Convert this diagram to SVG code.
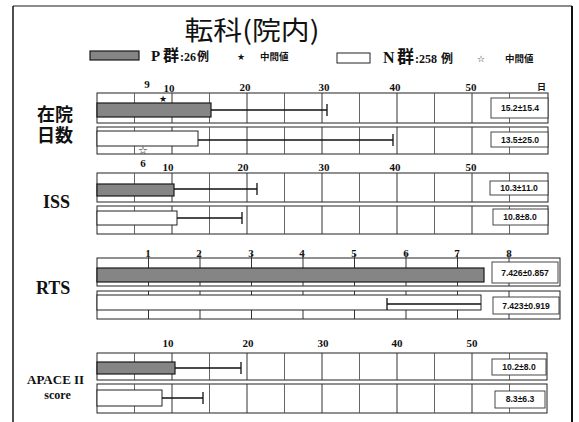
<svg xmlns="http://www.w3.org/2000/svg" width="579" height="422" viewBox="0 0 579 422">
<style>
.box{fill:#fff;stroke:#222;stroke-width:1}
.g10{stroke:#333;stroke-width:1}
.g5{stroke:#555;stroke-width:0.9}
.barP{fill:#858585;stroke:#1a1a1a;stroke-width:1.2}
.barN{fill:#fff;stroke:#222;stroke-width:1}
.err{stroke:#111;stroke-width:1.3;fill:none}
.vbox{fill:#fff;stroke:#333;stroke-width:0.9}
.vtxt{font-family:"Liberation Sans",Arial,sans-serif;font-size:8.6px;font-weight:bold;text-anchor:middle;fill:#111}
.ax{font-family:"Liberation Serif","Times New Roman",serif;font-size:11px;font-weight:bold;text-anchor:middle;fill:#111}
.lab{font-family:"Liberation Serif","Times New Roman",serif;font-weight:bold;fill:#111}
.jp{font-family:"Noto Sans CJK JP",sans-serif;font-weight:bold;fill:#111}
.sym{font-family:"DejaVu Sans",sans-serif;fill:#111;text-anchor:middle}
</style>
<rect width="579" height="422" fill="#fff"/>
<g id="frame">
<line x1="13" y1="6" x2="572" y2="6" stroke="#666" stroke-width="1.4"/>
<line x1="13" y1="6" x2="13" y2="422" stroke="#222" stroke-width="1.6"/>
<line x1="572" y1="6" x2="572" y2="422" stroke="#111" stroke-width="2"/>
</g>
<g id="title">
<text x="252" y="40" font-family="Noto Sans CJK JP, sans-serif" font-size="26" text-anchor="middle" textLength="135" lengthAdjust="spacingAndGlyphs" fill="#111">転科(院内)</text>
</g>
<g id="legend">
<rect x="90" y="51" width="49" height="9" class="barP"/>
<text class="lab" y="61"><tspan x="151" font-size="15">P</tspan><tspan x="163" font-size="16" font-family="Noto Sans CJK JP, serif">群</tspan><tspan x="180" font-size="12">:26</tspan><tspan x="197" font-size="12" font-family="Noto Sans CJK JP, serif">例</tspan></text>
<text class="sym" x="241" y="60" font-size="9">★</text>
<text class="jp" x="260" y="60" font-size="9.5">中間値</text>
<rect x="337" y="53" width="33" height="10" class="barN"/>
<text class="lab" y="63"><tspan x="383" font-size="16">N</tspan><tspan x="397" font-size="17" font-family="Noto Sans CJK JP, serif">群</tspan><tspan x="415" font-size="12">:258</tspan><tspan x="441" font-size="12" font-family="Noto Sans CJK JP, serif">例</tspan></text>
<text class="sym" x="481" y="62" font-size="9">☆</text>
<text class="jp" x="505" y="62" font-size="9.5">中間値</text>
</g>

<g id="chart-stay">
<text class="jp" x="37" y="121" font-size="18">在院</text>
<text class="jp" x="37" y="142" font-size="18">日数</text>
<text class="ax" x="147" y="88" font-size="10">9</text>
<text class="ax" x="169" y="92">10</text>
<text class="ax" x="245" y="91">20</text>
<text class="ax" x="324" y="91">30</text>
<text class="ax" x="395" y="91">40</text>
<text class="ax" x="471" y="91">50</text>
<text class="jp" x="537" y="90" font-size="9">日</text>
<rect class="box" x="97" y="93" width="451" height="30"/>
<path class="g5" d="M134.5,93V123M209.5,93V123M284.5,93V123M359.5,93V123M434.5,93V123M509.5,93V123"/>
<path class="g10" d="M172,93V123M247,93V123M322,93V123M397,93V123M472,93V123"/>
<rect class="barP" x="97" y="103" width="114" height="14"/>
<path class="err" d="M211,110H327M327,104V116"/>
<text class="sym" x="163" y="102" font-size="9">★</text>
<rect class="vbox" x="491" y="98" width="57" height="20"/>
<text class="vtxt" x="520" y="111">15.2±15.4</text>
<rect class="box" x="97" y="127" width="451" height="27"/>
<path class="g5" d="M134.5,127V154M209.5,127V154M284.5,127V154M359.5,127V154M434.5,127V154M509.5,127V154"/>
<path class="g10" d="M172,127V154M247,127V154M322,127V154M397,127V154M472,127V154"/>
<rect class="barN" x="97" y="131" width="101" height="15"/>
<path class="err" d="M198,140H393M393,134V146"/>
<text class="sym" x="143" y="154" font-size="11">☆</text>
<rect class="vbox" x="491" y="132" width="57" height="15"/>
<text class="vtxt" x="520" y="143">13.5±25.0</text>
</g>

<g id="chart-iss">
<text class="lab" x="43" y="208" font-size="18">ISS</text>
<text class="ax" x="143" y="167" font-size="10">6</text>
<text class="ax" x="168" y="171">10</text>
<text class="ax" x="243" y="171">20</text>
<text class="ax" x="324" y="171">30</text>
<text class="ax" x="395" y="171">40</text>
<text class="ax" x="471" y="171">50</text>
<rect class="box" x="97" y="173" width="451" height="29"/>
<path class="g5" d="M134.5,173V202M209.5,173V202M284.5,173V202M359.5,173V202M434.5,173V202M509.5,173V202"/>
<path class="g10" d="M172,173V202M247,173V202M322,173V202M397,173V202M472,173V202"/>
<rect class="barP" x="97" y="184" width="77" height="12"/>
<path class="err" d="M174,189H257M257,183V195"/>
<rect class="vbox" x="490" y="181" width="58" height="14"/>
<text class="vtxt" x="519" y="191">10.3±11.0</text>
<rect class="box" x="97" y="206" width="451" height="28"/>
<path class="g5" d="M134.5,206V234M209.5,206V234M284.5,206V234M359.5,206V234M434.5,206V234M509.5,206V234"/>
<path class="g10" d="M172,206V234M247,206V234M322,206V234M397,206V234M472,206V234"/>
<rect class="barN" x="97" y="211" width="80" height="14"/>
<path class="err" d="M177,218H242M242,212V224"/>
<rect class="vbox" x="493" y="209" width="55" height="16"/>
<text class="vtxt" x="520" y="220">10.8±8.0</text>
</g>

<g id="chart-rts">
<text class="lab" x="36" y="294" font-size="18">RTS</text>
<text class="ax" x="148" y="257">1</text>
<text class="ax" x="199" y="257">2</text>
<text class="ax" x="251" y="257">3</text>
<text class="ax" x="302" y="257">4</text>
<text class="ax" x="354" y="257">5</text>
<text class="ax" x="406" y="257">6</text>
<text class="ax" x="457" y="257">7</text>
<text class="ax" x="509" y="257">8</text>
<rect class="box" x="97" y="258" width="463" height="28"/>
<path class="g10" d="M148.5,253V286M200,253V286M251.5,253V286M303,253V286M354.5,253V286M406,253V286M457.5,253V286M509,253V286"/>
<rect class="barP" x="97" y="268" width="387" height="14"/>
<rect class="vbox" x="492" y="262" width="66" height="21"/>
<text class="vtxt" x="525" y="276">7.426±0.857</text>
<rect class="box" x="97" y="291" width="463" height="28"/>
<path class="g10" d="M148.5,291V319M200,291V319M251.5,291V319M303,291V319M354.5,291V319M406,291V319M457.5,291V319M509,291V319"/>
<rect class="barN" x="97" y="295" width="384" height="15"/>
<path class="err" d="M387,304H481M387,298V310"/>
<rect class="vbox" x="493" y="297" width="66" height="17"/>
<text class="vtxt" x="526" y="309">7.423±0.919</text>
</g>

<g id="chart-apache">
<text class="lab" x="27" y="384" font-size="13">APACE II</text>
<text class="lab" x="57.5" y="399" font-size="12" text-anchor="middle">score</text>
<text class="ax" x="168" y="347">10</text>
<text class="ax" x="248" y="347">20</text>
<text class="ax" x="323" y="347">30</text>
<text class="ax" x="397" y="347">40</text>
<text class="ax" x="472" y="347">50</text>
<rect class="box" x="97" y="353" width="450" height="27"/>
<path class="g5" d="M134.5,353V380M209.5,353V380M284.5,353V380M359.5,353V380M434.5,353V380M509.5,353V380"/>
<path class="g10" d="M172,353V380M247,353V380M322,353V380M397,353V380M472,353V380"/>
<rect class="barP" x="97" y="362" width="78" height="12"/>
<path class="err" d="M175,368H241M241,362V374"/>
<rect class="vbox" x="492" y="359" width="54" height="16"/>
<text class="vtxt" x="519" y="370">10.2±8.0</text>
<rect class="box" x="97" y="384" width="450" height="29"/>
<path class="g5" d="M134.5,384V413M209.5,384V413M284.5,384V413M359.5,384V413M434.5,384V413M509.5,384V413"/>
<path class="g10" d="M172,384V413M247,384V413M322,384V413M397,384V413M472,384V413"/>
<rect class="barN" x="97" y="390" width="65" height="16"/>
<path class="err" d="M162,398H203M203,392V404"/>
<rect class="vbox" x="495" y="391" width="50" height="17"/>
<text class="vtxt" x="520" y="402">8.3±6.3</text>
</g>
</svg>
